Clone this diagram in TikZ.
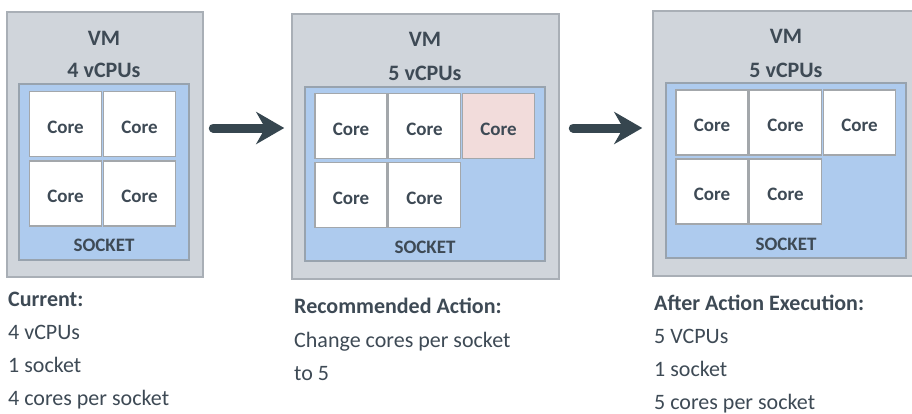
\documentclass[tikz,border=0pt]{standalone}
\usepackage{fontspec}
\setmainfont{Carlito}
\usetikzlibrary{arrows.meta}
\definecolor{vmfill}{HTML}{D0D5DB}
\definecolor{vmline}{HTML}{A9AFB6}
\definecolor{sockfill}{HTML}{AECBEE}
\definecolor{sockline}{HTML}{98A3AE}
\definecolor{coreline}{HTML}{A3A7AB}
\definecolor{pinkcore}{HTML}{F2DCDB}
\definecolor{txt}{HTML}{3E4A55}
\definecolor{arr}{HTML}{36464F}
\begin{document}
\begin{tikzpicture}[x=1pt,y=-1pt,
  vmbox/.style={draw=vmline, fill=vmfill, line width=1.5pt, inner sep=0pt, minimum height=265pt},
  sockbox/.style={draw=sockline, fill=sockfill, line width=1.5pt, inner sep=0pt},
  corebox/.style={draw=coreline, fill=white, line width=1.5pt, inner sep=0pt,
    minimum width=72pt, minimum height=65pt, text height=18pt, text depth=0pt,
    font=\fontsize{19}{22}\selectfont\bfseries, text=txt},
  newcore/.style={corebox, fill=pinkcore},
  vmtitle/.style={font=\fontsize{22}{26}\selectfont\bfseries, text=txt, anchor=base, inner sep=0pt},
  socklabel/.style={font=\fontsize{19}{22}\selectfont\bfseries, text=txt, anchor=base, inner sep=0pt},
  info/.style={font=\fontsize{22}{26}\selectfont, text=txt, anchor=base west, inner sep=0pt},
  infohead/.style={info, font=\fontsize{22}{26}\selectfont\bfseries},
  bigarrow/.style={draw=arr, line width=9pt, line cap=round,
    -{Stealth[length=28pt,width=32pt,inset=9pt]}}
]
\useasboundingbox (0,0) rectangle (912,413);
\clip (0,0) rectangle (912,413);
\fill[white] (0,0) rectangle (912,413);

% ---- VM 1 ----
\node[vmbox, minimum width=196pt] (vm1) at (105,144.5) {};
\node[sockbox, minimum width=170pt, minimum height=176pt] (s1) at (104,172) {};
\node[corebox] (c11) at (65.5,124) {Core};
\node[corebox] (c12) at (139.5,124) {Core};
\node[corebox] (c13) at (65.5,193.5) {Core};
\node[corebox] (c14) at (139.5,193.5) {Core};
\node[vmtitle] (t1a) at (104,45) {VM};
\node[vmtitle] (t1b) at (104,77) {4 vCPUs};
\node[socklabel] (t1c) at (104,251) {SOCKET};

% ---- VM 2 ----
\node[vmbox, minimum width=267pt] (vm2) at (425.5,146.5) {};
\node[sockbox, minimum width=240pt, minimum height=174pt] (s2) at (425,174) {};
\node[corebox] (c21) at (351,126) {Core};
\node[corebox] (c22) at (424.5,126) {Core};
\node[newcore] (c23) at (498.5,126) {Core};
\node[corebox] (c24) at (351,195) {Core};
\node[corebox] (c25) at (424.5,195) {Core};
\node[vmtitle] (t2a) at (425,46) {VM};
\node[vmtitle] (t2b) at (425,80) {5 vCPUs};
\node[socklabel] (t2c) at (425,253) {SOCKET};

% ---- VM 3 ----
\node[vmbox, minimum width=267pt] (vm3) at (786.5,143.5) {};
\node[sockbox, minimum width=240pt, minimum height=175pt] (s3) at (786,170.5) {};
\node[corebox] (c31) at (712,122.5) {Core};
\node[corebox] (c32) at (785.5,122.5) {Core};
\node[corebox] (c33) at (859.5,122.5) {Core};
\node[corebox] (c34) at (712,191.5) {Core};
\node[corebox] (c35) at (785.5,191.5) {Core};
\node[vmtitle] (t3a) at (786,43) {VM};
\node[vmtitle] (t3b) at (786,77) {5 vCPUs};
\node[socklabel] (t3c) at (786,250) {SOCKET};

% ---- arrows ----
\draw[bigarrow, shorten <=9.5pt, shorten >=7pt] ([yshift=16.5pt]vm1.east) -- ([yshift=18.5pt]vm2.west);
\draw[bigarrow, shorten <=13.5pt, shorten >=10pt] ([yshift=18.5pt]vm2.east) -- ([yshift=15.5pt]vm3.west);

% ---- descriptions ----
\node[infohead] (d1a) at (8,306) {Current:};
\node[info] (d1b) at (8,339) {4 vCPUs};
\node[info] (d1c) at (8,372) {1 socket};
\node[info] (d1d) at (8,405) {4 cores per socket};

\node[infohead] (d2a) at (294,313) {Recommended Action:};
\node[info] (d2b) at (294,347) {Change cores per socket};
\node[info] (d2c) at (294,380) {to 5};

\node[infohead] (d3a) at (654,310) {After Action Execution:};
\node[info] (d3b) at (654,343) {5 VCPUs};
\node[info] (d3c) at (654,376) {1 socket};
\node[info] (d3d) at (654,409) {5 cores per socket};
\end{tikzpicture}
\end{document}
